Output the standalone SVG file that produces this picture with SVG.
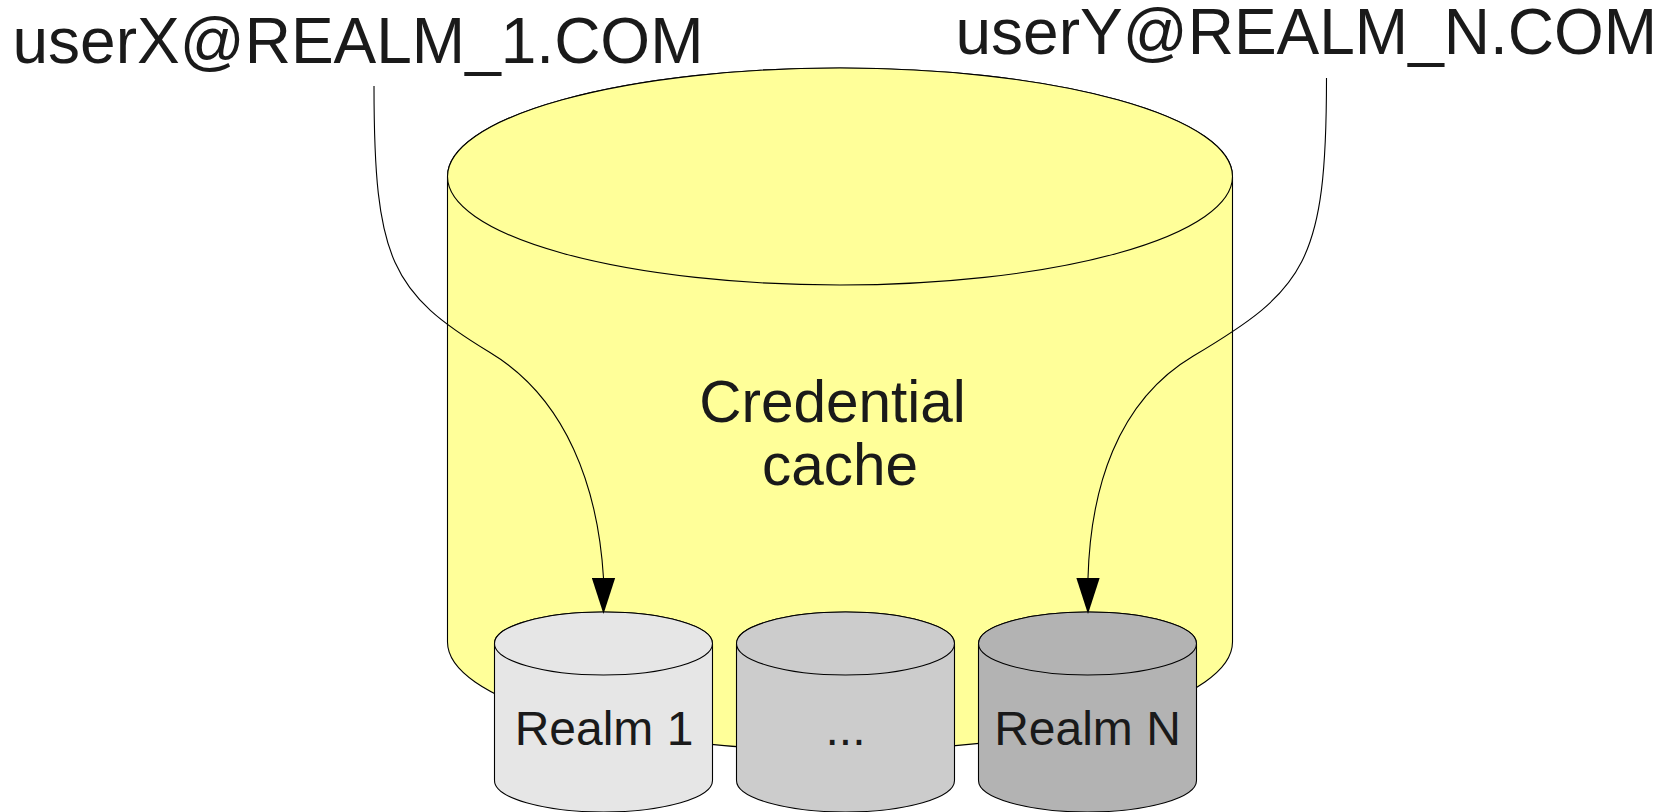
<svg xmlns="http://www.w3.org/2000/svg" width="1666" height="812" viewBox="0 0 1666 812">
  <style>
    .shape { stroke: #000; stroke-width: 1.1; }
    .label { font-family: "Liberation Sans", Arial, sans-serif; fill: #1a1a1a; }
    .conn { fill: none; stroke: #000; stroke-width: 1.1; }
  </style>
  <defs>
    <marker id="arrow" markerUnits="userSpaceOnUse" markerWidth="36" markerHeight="24" refX="0" refY="11" orient="90" viewBox="0 0 34 22">
      <path d="M0,0 L34,11 L0,22 Z" fill="#000"/>
    </marker>
  </defs>

  <rect width="1666" height="812" fill="#fff"/>

  <!-- Outer store: credential cache -->
  <g id="credential-cache">
    <path class="shape" fill="#ffff99" d="M447.5,176.5 V642 A392.5,108.5 0 0 0 1232.5,642 V176.5 A392.5,108.5 0 0 0 447.5,176.5 Z"/>
    <ellipse class="shape" fill="#ffff99" cx="840" cy="176.5" rx="392.5" ry="108.5"/>
    <text class="label" font-size="58.5" text-anchor="middle" x="832.5" y="421.7">Credential</text>
    <text class="label" font-size="58.5" text-anchor="middle" x="840" y="485">cache</text>
  </g>

  <!-- Principal labels -->
  <g id="principal-x">
    <text class="label" font-size="64" x="12.5" y="62.5">userX@REALM_1.COM</text>
  </g>
  <g id="principal-y">
    <text class="label" font-size="64" x="955.5" y="54">userY@REALM_N.COM</text>
  </g>

  <!-- Per-realm stores -->
  <g id="realm-1">
    <path class="shape" fill="#e6e6e6" d="M494.5,643.5 V780.5 A109,31.5 0 0 0 712.5,780.5 V643.5 A109,31.5 0 0 0 494.5,643.5 Z"/>
    <ellipse class="shape" fill="#e6e6e6" cx="603.5" cy="643.5" rx="109" ry="31.5"/>
    <text class="label" font-size="48" text-anchor="middle" x="604" y="745">Realm 1</text>
  </g>
  <g id="realm-more">
    <path class="shape" fill="#cccccc" d="M736.5,643.5 V780.5 A109,31.5 0 0 0 954.5,780.5 V643.5 A109,31.5 0 0 0 736.5,643.5 Z"/>
    <ellipse class="shape" fill="#cccccc" cx="845.5" cy="643.5" rx="109" ry="31.5"/>
    <text class="label" font-size="48" text-anchor="middle" x="845.5" y="745">...</text>
  </g>
  <g id="realm-n">
    <path class="shape" fill="#b3b3b3" d="M978.5,643.5 V780.5 A109,31.5 0 0 0 1196.5,780.5 V643.5 A109,31.5 0 0 0 978.5,643.5 Z"/>
    <ellipse class="shape" fill="#b3b3b3" cx="1087.5" cy="643.5" rx="109" ry="31.5"/>
    <text class="label" font-size="48" text-anchor="middle" x="1087.5" y="745">Realm N</text>
  </g>

  <!-- Connectors: principal to its realm store -->
  <g id="connectors">
    <path class="conn" marker-end="url(#arrow)" d="M374,86 C374,261 391.6,293 490,352.5 C567,399 598,488 603.5,578"/>
    <path class="conn" marker-end="url(#arrow)" d="M1326.5,78 C1326.5,263 1305,289.6 1193.3,356 C1116,402 1090.5,490 1088,578"/>
  </g>
</svg>
